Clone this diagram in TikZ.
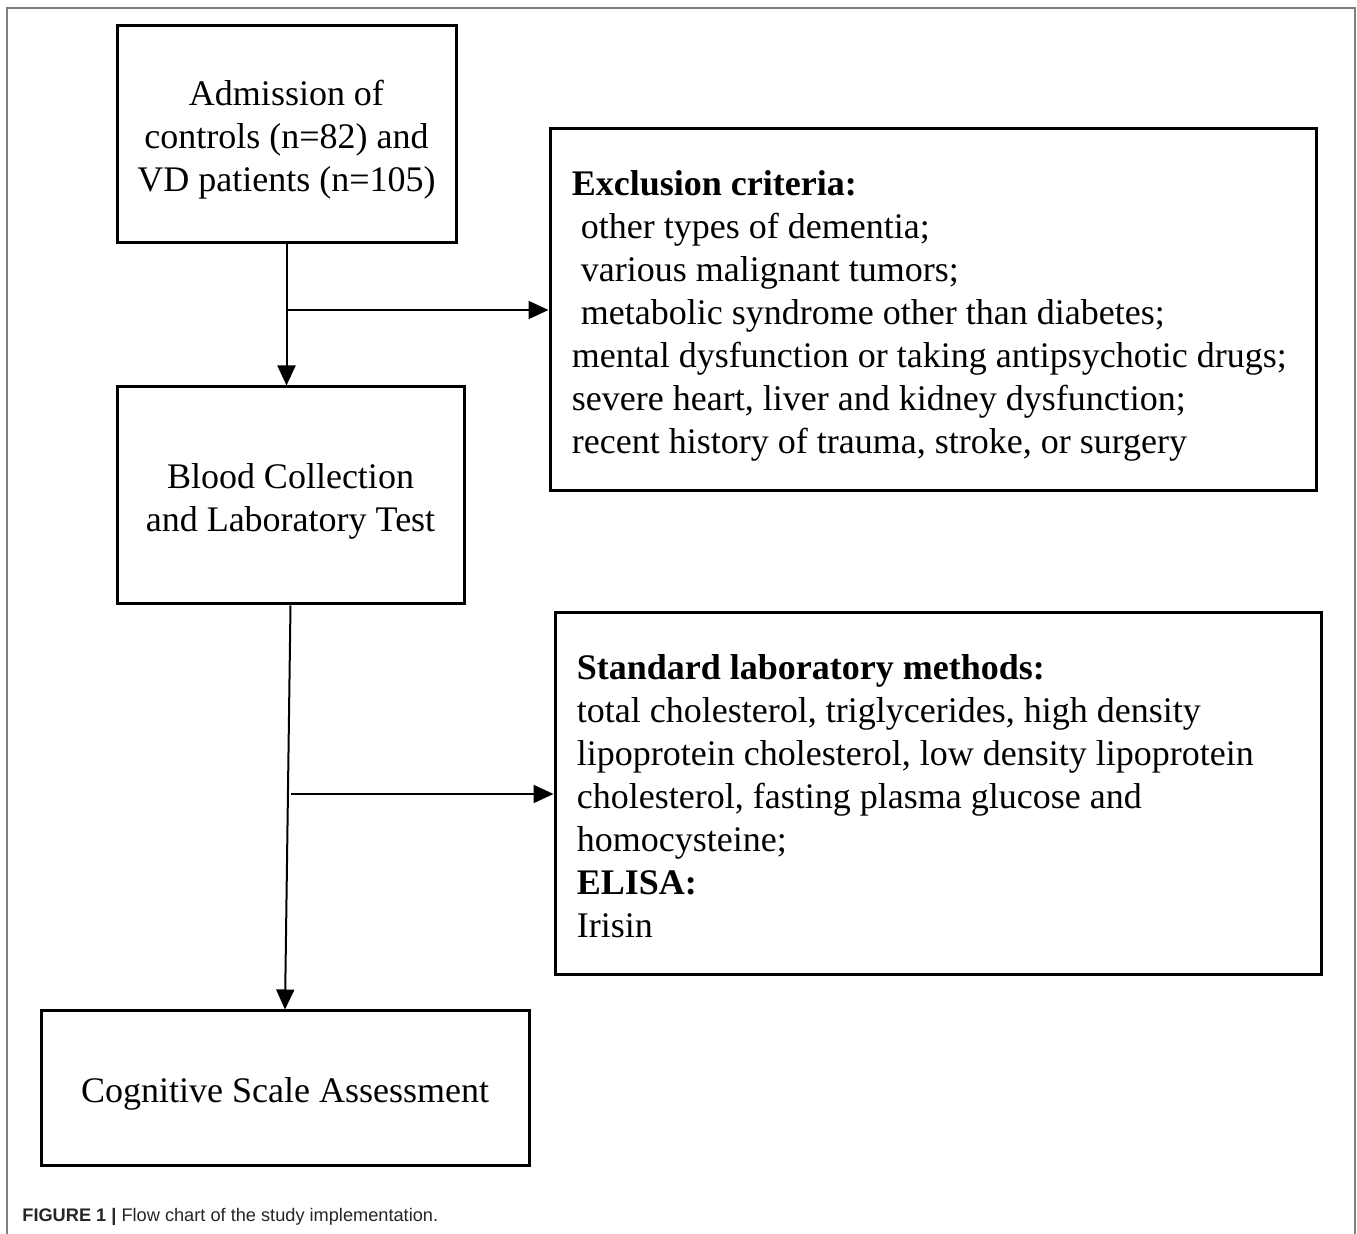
\documentclass[tikz,border=0pt]{standalone}
\usepackage{fontspec}
\setmainfont{Liberation Serif}
\newfontfamily\capfont{Liberation Sans}
\usetikzlibrary{arrows.meta}
\begin{document}
\begin{tikzpicture}[x=0.5pt,y=-0.5pt,
  box/.style={draw=black, line width=1.5pt, inner sep=0pt},
  boxtext/.style={inner sep=0pt, align=center,
    font=\fontsize{18}{21.5}\selectfont},
  listbox/.style={draw=black, line width=1.5pt, inner sep=0pt,
    minimum width=383pt, minimum height=181pt},
  listtext/.style={inner sep=0pt, align=left, anchor=west,
    font=\fontsize{18}{21.5}\selectfont},
  conn/.style={line width=1pt, -{Triangle[length=10pt,width=9pt]}},
  frame/.style={draw=black!50, line width=1pt}]
\useasboundingbox (0,0) rectangle (1357,1234);
\draw[frame] (7,1234) -- (7,8) -- (1355,8) -- (1355,1234);

\node[box, minimum width=169.5pt, minimum height=108.5pt] (adm) at (286.5,134.5) {};
\node[boxtext] (admtxt) at ([yshift=-2.5pt]adm.center)
  {Admission of\\controls (n=82) and\\VD patients (n=105)};
\node[box, minimum width=173.5pt, minimum height=108.5pt] (blood) at (290.5,495.5) {};
\node[boxtext] (bloodtxt) at ([yshift=-3pt]blood.center)
  {Blood Collection\\and Laboratory Test};
\node[box, minimum width=244pt, minimum height=77.5pt] (cog) at (285,1088.5) {};
\node[boxtext] (cogtxt) at ([yshift=-2.5pt]cog.center)
  {Cognitive Scale Assessment};

\node[listbox] (excl) at (933,310) {};
\node[listtext] (excltxt) at ([xshift=11.5pt,yshift=-2.8pt]excl.west)
  {\textbf{Exclusion criteria:}\\
   \hspace*{0.25em}other types of dementia;\\
   \hspace*{0.25em}various malignant tumors;\\
   \hspace*{0.25em}metabolic syndrome other than diabetes;\\
   mental dysfunction or taking antipsychotic drugs;\\
   severe heart, liver and kidney dysfunction;\\
   recent history of trauma, stroke, or surgery};
\node[listbox] (lab) at (938,794) {};
\node[listtext] (labtxt) at ([xshift=11.5pt,yshift=-1pt]lab.west)
  {\textbf{Standard laboratory methods:}\\
   total cholesterol, triglycerides, high density\\
   lipoprotein cholesterol, low density lipoprotein\\
   cholesterol, fasting plasma glucose and\\
   homocysteine;\\
   \textbf{ELISA:}\\
   Irisin};

\coordinate (j1) at (adm.south |- excl.west);
\coordinate (j2) at (blood.south |- lab.west);
\draw[conn] (adm.south) -- (adm.south |- blood.north);
\draw[conn] (j1) -- (excl.west);
\draw[conn] (blood.south) -- (cog.north);
\draw[conn] (j2) -- (lab.west);

\node[anchor=base west, inner sep=0pt, text=black!85,
  font=\capfont\fontsize{9.1}{11}\selectfont] (cap) at (22,1222)
  {\textbf{FIGURE 1 |} Flow chart of the study implementation.};
\end{tikzpicture}
\end{document}
